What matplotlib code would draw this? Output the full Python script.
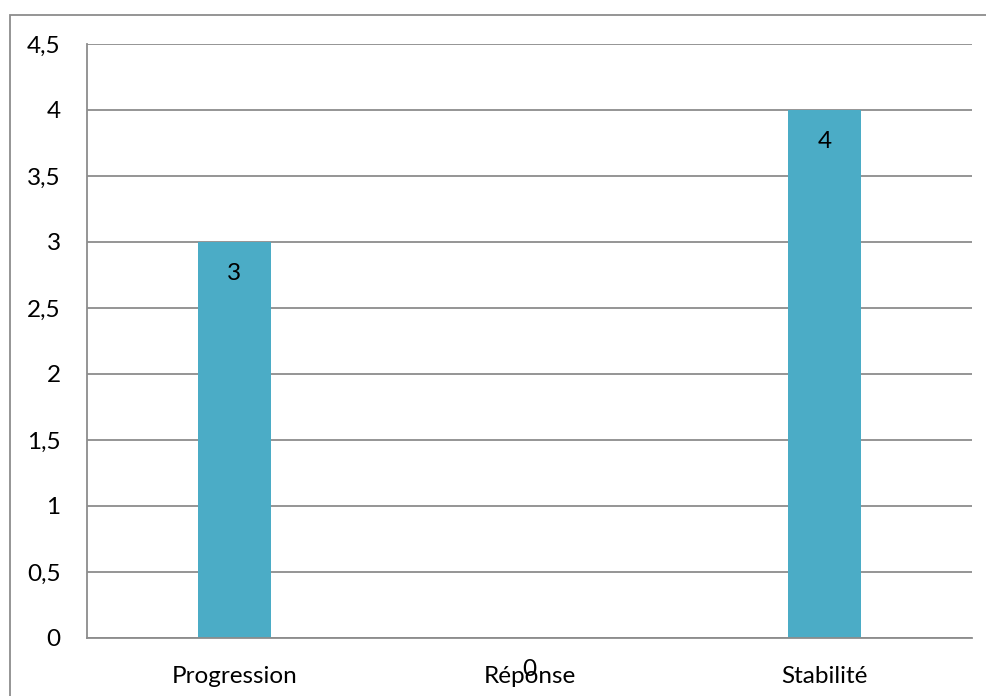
import matplotlib
matplotlib.use("Agg")
import matplotlib.pyplot as plt
from matplotlib.patches import Rectangle
from matplotlib.ticker import FuncFormatter

categories = ["Progression", "Réponse", "Stabilité"]
values = [3, 0, 4]
y_ticks = [0, 0.5, 1, 1.5, 2, 2.5, 3, 3.5, 4, 4.5]

plt.rcParams["font.family"] = ["Lato", "DejaVu Sans"]

W, H = 987, 696
fig = plt.figure(figsize=(W / 100, H / 100), dpi=100)
fig.patch.set_facecolor("white")

# chart frame (only left and top edges fall inside the canvas)
fig.patches.append(Rectangle((10 / W, -0.1), 1.2, 1.1 - 15 / H,
                             transform=fig.transFigure, fill=False,
                             edgecolor="#8c8c8c", linewidth=1.3))

ax = fig.add_axes([87 / W, (H - 638) / H, 885 / W, (638 - 44) / H])
x = range(len(categories))
bars = ax.bar(x, values, width=0.25, color="#4BACC6", zorder=3)

ax.set_xlim(-0.5, len(categories) - 0.5)
ax.set_ylim(0, 4.5)
ax.set_yticks(y_ticks)
ax.yaxis.set_major_formatter(FuncFormatter(lambda v, p: f"{v:g}".replace(".", ",")))
ax.set_xticks(list(x))
ax.set_xticklabels(categories)

ax.grid(axis="y", color="#8c8c8c", linewidth=1.3, zorder=1)
for s in ["top", "right"]:
    ax.spines[s].set_visible(False)
for s in ["left", "bottom"]:
    ax.spines[s].set_color("#8c8c8c")
    ax.spines[s].set_linewidth(1.3)
    ax.spines[s].set_zorder(4)

FS = 17.5
ax.tick_params(axis="both", length=0, labelsize=FS, colors="black")
ax.tick_params(axis="y", pad=19)
ax.tick_params(axis="x", pad=20)

# value labels just inside the bar ends
for xi, v in zip(x, values):
    ax.annotate(f"{v}", (xi, v), xytext=(0, -23), textcoords="offset points",
                ha="center", va="center", fontsize=FS, color="black",
                zorder=5, annotation_clip=False)

fig.savefig("out.png", dpi=100, facecolor="white")
